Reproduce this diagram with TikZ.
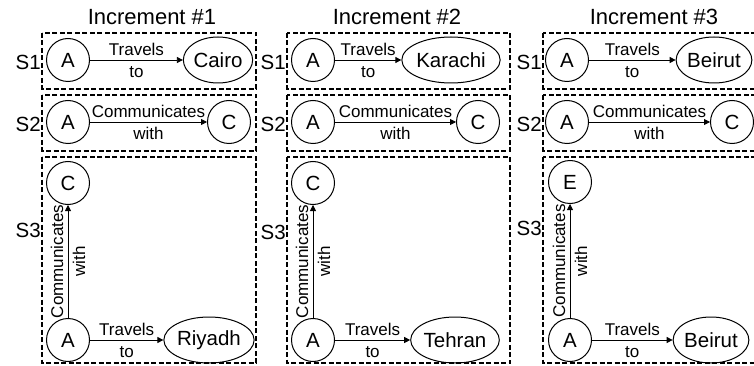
\documentclass[tikz,border=0pt]{standalone}
\usepackage{fontspec}
\setmainfont{Liberation Sans}
\usetikzlibrary{shapes.geometric, arrows.meta, positioning}
\tikzset{
    frame/.style={draw, dash pattern=on 5pt off 2.5pt, line width=1.9pt},
    entity/.style={circle, draw, line width=1pt, minimum size=43pt, inner sep=0pt, font=\fontsize{20.5}{24}\selectfont},
    place/.style={ellipse, draw, line width=1pt, minimum height=46pt, inner xsep=0pt, font=\fontsize{20.5}{24}\selectfont},
    rel/.style={-{Triangle[length=6pt, width=6pt]}, line width=0.8pt},
    rellabel/.style={midway, align=center, inner sep=0pt, font=\fontsize{17}{22}\selectfont},
    stage/.style={anchor=east, inner sep=1pt, font=\fontsize{20.5}{24}\selectfont},
    heading/.style={font=\fontsize{22}{26}\selectfont}
}
\begin{document}
\begin{tikzpicture}[x=1pt, y=-1pt]
    \useasboundingbox (0,0) rectangle (754,366);

    \node (inc1) [heading] at (152,17) {Increment \#1};
    \node (inc2) [heading] at (397,17) {Increment \#2};
    \node (inc3) [heading] at (654,17) {Increment \#3};

    \draw [frame] (42,33) rectangle (256,89);
    \draw [frame] (42,95) rectangle (256,151);
    \draw [frame] (42,157) rectangle (256,363);
    \draw [frame] (287,33) rectangle (510,89);
    \draw [frame] (287,95) rectangle (510,151);
    \draw [frame] (287,157) rectangle (510,363);
    \draw [frame] (543,33) rectangle (766,89);
    \draw [frame] (543,95) rectangle (766,151);
    \draw [frame] (543,157) rectangle (766,363);

    \node (p1s1) [stage] at (42,62) {S1};
    \node (p1s2) [stage] at (42,124) {S2};
    \node (p1s3) [stage] at (42,230) {S3};
    \node (p2s1) [stage] at (287,62) {S1};
    \node (p2s2) [stage] at (287,124) {S2};
    \node (p2s3) [stage] at (287,232) {S3};
    \node (p3s1) [stage] at (543,62) {S1};
    \node (p3s2) [stage] at (543,124) {S2};
    \node (p3s3) [stage] at (543,228) {S3};

    \node (p1a1) [entity] at (68,60) {A};
    \node (cairo) [place] at (218,60) {Cairo};
    \node (p1a2) [entity] at (68,122) {A};
    \node (p1c2) [entity] at (229,122) {C};
    \node (p1c3) [entity] at (68,183) {C};
    \node (p1a3) [entity] at (68,340) {A};
    \node (riyadh) [place] at (209,340) {Riyadh};

    \node (p2a1) [entity] at (313,60) {A};
    \node (karachi) [place] at (451,60) {Karachi};
    \node (p2a2) [entity] at (313,122) {A};
    \node (p2c2) [entity] at (478,122) {C};
    \node (p2c3) [entity] at (313,183) {C};
    \node (p2a3) [entity] at (313,340) {A};
    \node (tehran) [place] at (455,340) {Tehran};

    \node (p3a1) [entity] at (567,60) {A};
    \node (beirut1) [place] at (714,60) {Beirut};
    \node (p3a2) [entity] at (567,122) {A};
    \node (p3c2) [entity] at (732,122) {C};
    \node (p3e3) [entity] at (570,182) {E};
    \node (p3a3) [entity] at (570,340) {A};
    \node (beirut3) [place] at (711,340) {Beirut};

    \draw [rel] (p1a1) -- (cairo) node [rellabel] {Travels\\to};
    \draw [rel] (p1a2) -- (p1c2) node [rellabel] {Communicates\\with};
    \draw [rel] (p1a3) -- (p1c3) node [rellabel, rotate=90] {Communicates\\with};
    \draw [rel] (p1a3) -- (riyadh) node [rellabel] {Travels\\to};

    \draw [rel] (p2a1) -- (karachi) node [rellabel] {Travels\\to};
    \draw [rel] (p2a2) -- (p2c2) node [rellabel] {Communicates\\with};
    \draw [rel] (p2a3) -- (p2c3) node [rellabel, rotate=90] {Communicates\\with};
    \draw [rel] (p2a3) -- (tehran) node [rellabel] {Travels\\to};

    \draw [rel] (p3a1) -- (beirut1) node [rellabel] {Travels\\to};
    \draw [rel] (p3a2) -- (p3c2) node [rellabel] {Communicates\\with};
    \draw [rel] (p3a3) -- (p3e3) node [rellabel, rotate=90] {Communicates\\with};
    \draw [rel] (p3a3) -- (beirut3) node [rellabel] {Travels\\to};
\end{tikzpicture}
\end{document}
